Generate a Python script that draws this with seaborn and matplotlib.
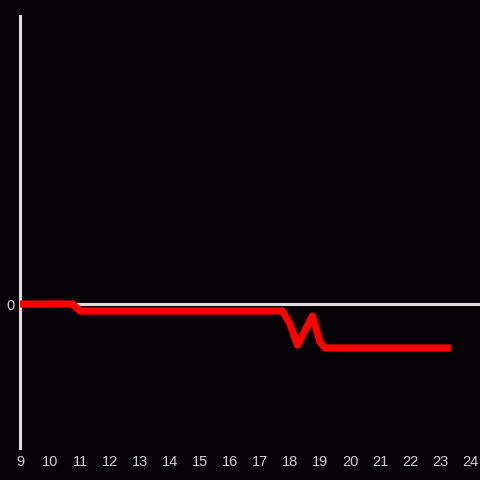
import matplotlib
matplotlib.use("Agg")
import matplotlib.pyplot as plt
import seaborn as sns
import pandas as pd

hours = [9.0, 10.75, 11.0, 17.75, 18.0, 18.25, 18.75, 19.0, 19.17, 23.37]
values = [0, 0, -7, -7, -20, -41, -12, -38, -44, -44]
xticks = list(range(9, 25))

sns.set_theme(style="dark")
plt.rcParams['font.family'] = ['Liberation Sans', 'DejaVu Sans']
bg = "#050307"
fig = plt.figure(figsize=(4.8, 4.8), dpi=100, facecolor=bg)
ax = fig.add_axes([20/480, 32/480, 460/480, 432/480])
ax.set_facecolor(bg)

df = pd.DataFrame({"hour": hours, "value": values})
ax.axhline(0, color="#dddddd", lw=2.2, zorder=1)
sns.lineplot(data=df, x="hour", y="value", ax=ax, color="#ff0000", lw=5.2, zorder=3,
             solid_capstyle="butt", solid_joinstyle="round")

ax.set_xlim(9, 9 + 460/30)
ax.set_ylim(-144, 288)
ax.set_xticks(xticks)
ax.set_xticklabels([str(t) for t in xticks])
ax.set_yticks([0])
ax.set_yticklabels(["0"])
ax.tick_params(axis="both", length=0, colors="#d0d0d0", labelsize=10.5)
ax.tick_params(axis="x", pad=5)
ax.tick_params(axis="y", pad=4)
ax.set_xlabel("")
ax.set_ylabel("")
ax.grid(False)
for s in ["top", "right", "bottom"]:
    ax.spines[s].set_visible(False)
ax.spines["left"].set_color("#dddddd")
ax.spines["left"].set_linewidth(2.2)

fig.savefig("out.png", dpi=100, facecolor=bg)
